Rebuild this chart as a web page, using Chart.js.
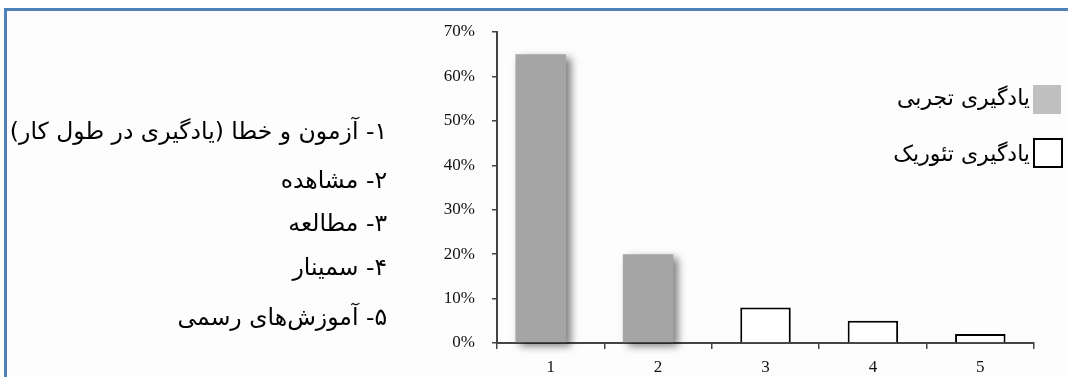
<!DOCTYPE html>
<html lang="fa">
<head>
<meta charset="utf-8">
<script src="https://cdn.jsdelivr.net/npm/chart.js@4.4.1/dist/chart.umd.min.js"></script>
<style>
  html, body { margin:0; padding:0; background:#fff; }
  #wrap { position:relative; width:1068px; height:377px; overflow:hidden; background:#fff; }
  #frame { position:absolute; left:4px; top:8px; width:1100px; height:400px;
           border-top:3px solid #4f81bd; border-left:3px solid #4f81bd; background:#fdfdfd; }
  #cv { position:absolute; left:0; top:0; }
  .item { position:absolute; right:681px; direction:rtl; white-space:nowrap;
          font-family:"DejaVu Sans", sans-serif; font-size:23.5px; color:#000; line-height:30px; }
  .leg { position:absolute; direction:rtl; white-space:nowrap;
         font-family:"DejaVu Sans", sans-serif; font-size:22px; color:#000; line-height:28px; }
  .sw { position:absolute; box-sizing:border-box; }
</style>
</head>
<body>
<div id="wrap">
  <div id="frame"></div>
  <canvas id="cv" width="1068" height="377"></canvas>
  <div id="list"></div>
  <div id="legend"></div>
</div>
<script>
// ---- data ----
const categories = ['1', '2', '3', '4', '5'];
const descriptions = [
  '۱- آزمون و خطا (یادگیری در طول کار)',
  '۲- مشاهده',
  '۳- مطالعه',
  '۴- سمینار',
  '۵- آموزش‌های رسمی'
];
const seriesNames = ['یادگیری تجربی', 'یادگیری تئوریک'];
const experiential = [65, 20, null, null, null];
const theoretical  = [null, null, 8, 5, 2];
const yTicks = [0, 10, 20, 30, 40, 50, 60, 70];

// ---- left list ----
const listTops = [116, 165, 208, 252, 302];
const list = document.getElementById('list');
descriptions.forEach((t, i) => {
  const d = document.createElement('div');
  d.className = 'item';
  d.style.top = listTops[i] + 'px';
  d.textContent = t;
  list.appendChild(d);
});

// ---- shadow plugin ----
const shadowPlugin = {
  id: 'shadow',
  beforeDatasetDraw(chart, args) {
    const ctx = chart.ctx;
    ctx.save();
    if (args.index === 0) ctx.translate(-10, 0);
    ctx.shadowColor = args.index === 0 ? 'rgba(0,0,0,0.5)' : 'rgba(0,0,0,0.15)';
    ctx.shadowBlur = 8;
    ctx.shadowOffsetX = 5;
    ctx.shadowOffsetY = 4;
  },
  afterDatasetDraw(chart) {
    chart.ctx.restore();
  }
};

const tickFont = { family: '"Liberation Serif", "DejaVu Serif", serif', size: 17 };

const chart = new Chart(document.getElementById('cv'), {
  type: 'bar',
  data: {
    labels: categories,
    datasets: [
      { label: seriesNames[0], data: experiential, backgroundColor: '#a5a5a5', borderWidth: 0,
        grouped: false, barPercentage: 0.47, categoryPercentage: 1, clip: false },
      { label: seriesNames[1], data: theoretical, backgroundColor: '#ffffff', borderColor: '#000',
        borderWidth: 2, grouped: false, barPercentage: 0.47, categoryPercentage: 1 }
    ]
  },
  options: {
    responsive: false,
    animation: false,
    devicePixelRatio: 1,
    layout: { padding: { left: 417, right: 34, top: 32, bottom: 0 } },
    plugins: { legend: { display: false }, tooltip: { enabled: false } },
    scales: {
      x: {
        offset: true,
        grid: { offset: true, drawOnChartArea: false, drawTicks: true, tickLength: 6, color: '#444', lineWidth: 1.5 },
        border: { display: true, color: '#444', width: 2 },
        ticks: { font: tickFont, color: '#111', padding: 8, maxRotation: 0 },
        afterFit(s) { s.height = 34; }
      },
      y: {
        min: 0, max: 70,
        afterBuildTicks(s) { s.ticks = yTicks.map(v => ({ value: v })); },
        grid: { drawOnChartArea: false, drawTicks: true, tickLength: 5, color: '#444', lineWidth: 1.5 },
        border: { display: true, color: '#444', width: 2 },
        ticks: { font: tickFont, color: '#111', padding: 17, callback: v => v + '%' },
        afterFit(s) { s.width = 80; }
      }
    }
  },
  plugins: [shadowPlugin]
});

// ---- legend from datasets ----
const legend = document.getElementById('legend');
const legendPos = [{ swTop: 85, txtTop: 84 }, { swTop: 138, txtTop: 140 }];
const legendSwatch = ['#c0c0c0', '#ffffff'];
chart.data.datasets.forEach((ds, i) => {
  const sw = document.createElement('div');
  sw.className = 'sw';
  sw.style.left = '1033px';
  sw.style.top = legendPos[i].swTop + 'px';
  sw.style.width = (i === 0 ? 28 : 30) + 'px';
  sw.style.height = (i === 0 ? 29 : 30) + 'px';
  sw.style.background = legendSwatch[i];
  if (ds.borderWidth) sw.style.border = '2.5px solid ' + ds.borderColor;
  legend.appendChild(sw);
  const t = document.createElement('div');
  t.className = 'leg';
  t.style.right = (1068 - 1030) + 'px';
  t.style.top = legendPos[i].txtTop + 'px';
  t.textContent = ds.label;
  legend.appendChild(t);
});
</script>
</body>
</html>
